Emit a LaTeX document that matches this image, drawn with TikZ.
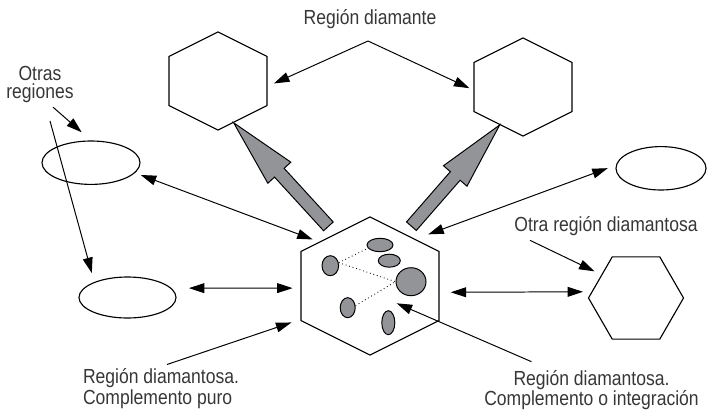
\documentclass[tikz,border=0pt]{standalone}
\usepackage{fontspec}
\setmainfont{Liberation Sans}[FakeStretch=0.86]
\usetikzlibrary{shapes.geometric,arrows.meta,calc}

\definecolor{blobgray}{RGB}{146,148,152}
\definecolor{labelgray}{RGB}{55,55,55}

\tikzset{
  hexa/.style={draw, regular polygon, regular polygon sides=6, inner sep=0pt, line width=0.8pt},
  pointy/.style={shape border rotate=90, xscale=1.1547},
  region/.style={draw, ellipse, inner sep=0pt, line width=0.8pt},
  blob/.style={draw, ellipse, fill=blobgray, inner sep=0pt, line width=0.7pt},
  regiontext/.style={text=labelgray, font=\fontsize{14.5}{13}\selectfont, inner sep=2pt},
  onehead/.style={-{Triangle[length=11pt,width=7pt]}, line width=0.7pt},
  twohead/.style={{Triangle[length=11pt,width=7pt]}-{Triangle[length=11pt,width=7pt]}, line width=0.7pt},
  blockarrow/.style={draw, fill=blobgray, line width=0.7pt, line join=miter}
}

% wide gray arrow from #1 to #2
\newcommand{\grayarrow}[2]{%
  \coordinate (ga-t) at ($(#1)!0.25cm!(#2)$);
  \coordinate (ga-h) at ($(#2)!1.69cm!(#1)$);
  \draw[blockarrow] ($(ga-t)!0.1625cm!90:(#2)$) -- ($(ga-h)!0.1625cm!90:(#2)$)
    -- ($(ga-h)!0.39cm!90:(#2)$) -- (#2) -- ($(ga-h)!0.39cm!-90:(#2)$)
    -- ($(ga-h)!0.1625cm!-90:(#2)$) -- ($(ga-t)!0.1625cm!-90:(#2)$) -- cycle;
}

\begin{document}
\begin{tikzpicture}[x=0.025cm, y=-0.025cm]
\useasboundingbox (0,0) rectangle (707,413);

% hexagons
\node[hexa, pointy, minimum size=3.45cm] (hexC) at (370,286) {};
\node[hexa, pointy, minimum size=2.45cm] (hexL) at (218,81) {};
\node[hexa, pointy, minimum size=2.45cm] (hexR) at (523,87) {};
\node[hexa, minimum size=2.375cm] (hexO) at (636,298) {};

% other regions
\node[region, minimum width=2.45cm, minimum height=1.085cm] (ellA) at (91,162.7) {};
\node[region, minimum width=2.425cm, minimum height=1.025cm] (ellB) at (127.5,297.5) {};
\node[region, minimum width=2.25cm, minimum height=1.085cm] (ellR) at (661,168.3) {};

% inclusions
\node[blob, minimum width=0.65cm, minimum height=0.335cm] (blob1) at (380,245) {};
\node[blob, minimum width=0.55cm, minimum height=0.325cm] (blob2) at (389.3,260.7) {};
\node[blob, minimum width=0.75cm, minimum height=0.7cm] (blob3) at (411,281.7) {};
\node[blob, minimum width=0.415cm, minimum height=0.5cm] (blob4) at (330.3,265.7) {};
\node[blob, minimum width=0.375cm, minimum height=0.5cm] (blob5) at (347.7,307.7) {};
\node[blob, minimum width=0.325cm, minimum height=0.6cm] (blob6) at (388.3,322.7) {};
\draw[dotted, line width=0.6pt] (blob4.20) -- (blob1.195);
\draw[dotted, line width=0.6pt] (blob4.20) -- (blob3.west);
\draw[dotted, line width=0.6pt] (blob5.15) -- (blob3.west);

% labels
\node[regiontext, anchor=base] (lblDiamante) at (370,25) {Región diamante};
\node[regiontext, anchor=base] (lblOtra) at (606,231) {Otra región diamantosa};
\node[regiontext, align=center, anchor=north] (lblOtras) at (40,63) {Otras\\regiones};
\node[regiontext, align=left, anchor=north] (lblPuro) at (161,365.5) {Región diamantosa.\\Complemento puro};
\node[regiontext, align=center, anchor=north] (lblInteg) at (591.5,367.2) {Región diamantosa.\\Complemento o integración};

% arrows
\coordinate (apex) at (368,41);
\draw[onehead, shorten >=4.9pt] (apex) -- (hexL.-7);
\draw[onehead, shorten >=3.1pt] (apex) -- (hexR.184);
\grayarrow{hexC.120}{hexL.-72}
\grayarrow{hexC.60}{hexR.-118}
\draw[twohead, shorten <=4.3pt, shorten >=4.8pt] (ellA.-13) -- (hexC.135);
\draw[twohead, shorten <=12.4pt, shorten >=5.5pt] (ellB.12.5) -- (hexC.182);
\draw[twohead, shorten <=9.7pt, shorten >=6.2pt] (hexC.50) -- (ellR.176);
\draw[twohead, shorten <=7.8pt, shorten >=6pt] (hexC.-6) -- (hexO.172.7);
\draw[onehead, shorten >=5.4pt] ($(lblOtra.south)+(-76,2)$) -- (hexO.146);
\draw[onehead, shorten >=8.8pt] ($(lblOtras.south)+(13,1.2)$) -- (ellA.north);
\draw[onehead, shorten >=6.6pt] ($(lblOtras.south)+(10,15)$) -- (ellB.155);
\draw[onehead, shorten >=6.7pt] ($(lblPuro.north)+(6,-1)$) -- (hexC.209);
\draw[onehead] ($(lblInteg.north)+(-60,-5.5)$) -- ($(hexC.center)+(26.7,17.3)$);
\end{tikzpicture}
\end{document}
